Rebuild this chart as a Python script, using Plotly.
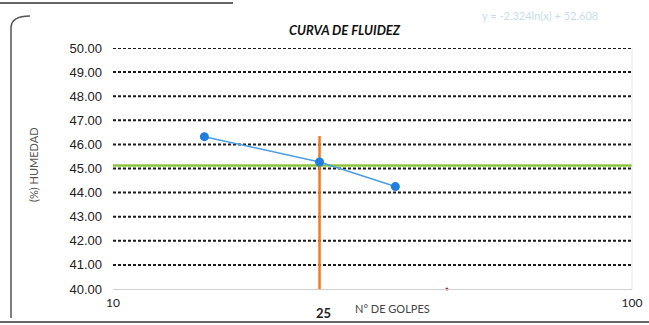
import math
import plotly.graph_objects as go

# Liquid limit flow curve: number of blows vs. moisture content
golpes = [15, 25, 35]
humedad = [46.32, 45.27, 44.25]

# Logarithmic trend line y = a*ln(x) + b
coef_a = -2.324
coef_b = 52.608
golpes_ref = 25
humedad_ref = coef_a * math.log(golpes_ref) + coef_b  # moisture at 25 blows
orange_top = 46.35

y_ticks = [40, 41, 42, 43, 44, 45, 46, 47, 48, 49, 50]
x_ticks = [10, 100]
marker_pt = (44, 40.0)

W, H = 649, 325
ml, mr, mt, mb = 113, 17, 48, 36
pw, ph = W - ml - mr, H - mt - mb


def px_x(px):
    return (px - ml) / pw


def px_y(py):
    return (H - mb - py) / ph


fig = go.Figure()

# dashed horizontal gridlines
for v in y_ticks[1:]:
    fig.add_shape(type="line", xref="paper", yref="y", x0=0, x1=1, y0=v, y1=v,
                  line=dict(color="#1a1a1a", width=2, dash="3px,2px"), layer="below")

# moisture at 25 blows (green) and 25-blow marker (orange)
fig.add_shape(type="line", xref="paper", yref="y", x0=0, x1=1,
              y0=humedad_ref, y1=humedad_ref, line=dict(color="#8cc63e", width=2.5),
              layer="below")
fig.add_shape(type="line", xref="x", yref="y", x0=golpes_ref, x1=golpes_ref,
              y0=40, y1=orange_top, line=dict(color="#f07a22", width=2.5), layer="below")

fig.add_trace(go.Scatter(
    x=golpes, y=humedad, mode="lines+markers",
    line=dict(color="#4a9ee2", width=1.5),
    marker=dict(color="#1e7fdc", size=9),
    showlegend=False, cliponaxis=False,
))
fig.add_trace(go.Scatter(
    x=[marker_pt[0]], y=[marker_pt[1]], mode="markers",
    marker=dict(color="#a52a1a", size=3), showlegend=False, cliponaxis=False,
))

# outer frame
fig.add_shape(type="path", xref="paper", yref="paper",
              path=(f"M {px_x(11)},{px_y(318)} L {px_x(11)},{px_y(28)} "
                    f"Q {px_x(11)},{px_y(16)} {px_x(30)},{px_y(16)}"),
              line=dict(color="#555555", width=1.5))
fig.add_shape(type="line", xref="paper", yref="paper",
              x0=px_x(0), x1=px_x(649), y0=px_y(322), y1=px_y(322),
              line=dict(color="#666666", width=2))
fig.add_shape(type="line", xref="paper", yref="paper",
              x0=px_x(0), x1=px_x(233), y0=px_y(3), y1=px_y(3),
              line=dict(color="#333333", width=1.5))
fig.add_shape(type="line", xref="paper", yref="paper",
              x0=1, x1=1, y0=0, y1=1, line=dict(color="#e6e6e6", width=1))

font_lab = "Liberation Sans, Arial, sans-serif"
font_cal = "Lato, Open Sans, sans-serif"


def note(text, x, y, size, color, angle=0):
    return dict(text=text, xref="paper", yref="paper", x=px_x(x), y=px_y(y),
                xanchor="center", yanchor="middle", showarrow=False, textangle=angle,
                font=dict(family=font_cal, size=size, color=color))


fig.update_layout(
    width=W, height=H,
    margin=dict(l=ml, r=mr, t=mt, b=mb, autoexpand=False),
    paper_bgcolor="white", plot_bgcolor="white",
    xaxis=dict(type="log", range=[1, 2], tickvals=x_ticks, ticktext=["10", "100"],
               automargin=False,
               showgrid=False, zeroline=False, showline=True, linecolor="#d0d0d0",
               linewidth=1, ticks="", tickfont=dict(family=font_cal, size=12, color="#222"),
               ticklabelstandoff=3),
    yaxis=dict(range=[40, 50], tickvals=y_ticks, automargin=False,
               ticktext=[f"{v:.2f}" for v in y_ticks],
               showgrid=False, zeroline=False, showline=False, ticks="",
               tickfont=dict(family=font_lab, size=13, color="#222"),
               ticklabelstandoff=10),
    annotations=[
        note("<b><i>CURVA DE FLUIDEZ</i></b>", 345, 30, 13, "#111"),
        note("(%) HUMEDAD", 33, 165, 11, "#555", angle=-90),
        note("N° DE GOLPES", 392, 308, 11, "#444"),
        note("<b>25</b>", 323, 313, 13, "#222"),
        note(f"y = {coef_a}ln(x) + {coef_b}", 540, 15, 11, "#c9dced"),
    ],
)

fig.write_html("out.html")
